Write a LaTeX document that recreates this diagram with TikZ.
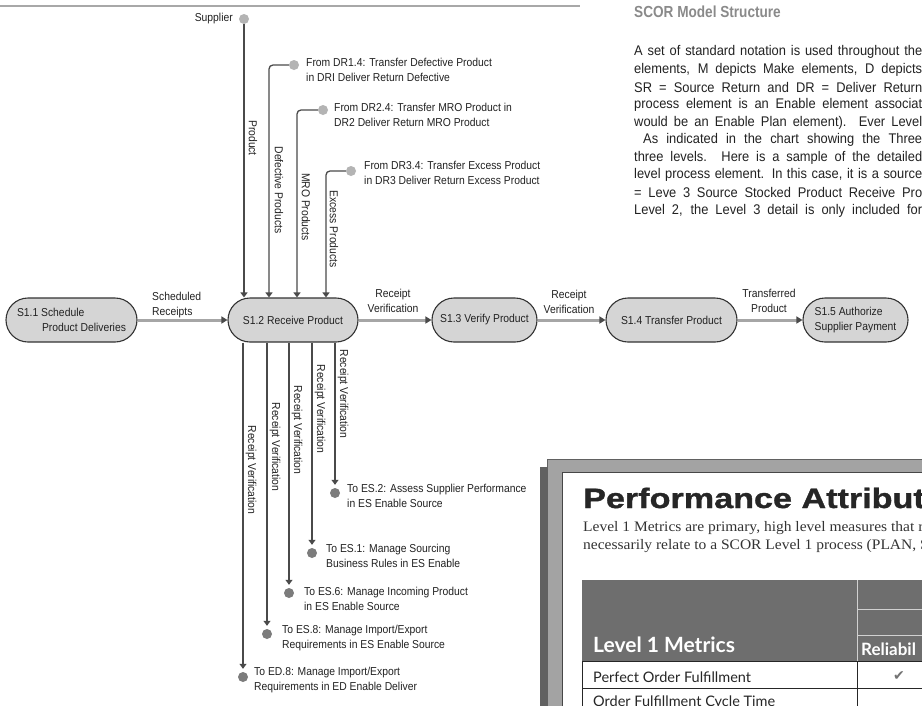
\documentclass[tikz,border=0pt]{standalone}
\usepackage{fontspec}
\setmainfont{Liberation Sans}[FakeStretch=0.9]
\newfontfamily\headfont{Liberation Sans}[FakeStretch=0.85]
\newfontfamily\bodyfont{Liberation Sans}[FakeStretch=0.92]
\newfontfamily\blackfont{Liberation Sans}[FakeStretch=1.22, BoldFeatures={FakeBold=1.2}]
\newfontfamily\bookfont{Liberation Serif}[FakeStretch=1.07]
\newfontfamily\tabfont{Lato}
\newfontfamily\symfont{DejaVu Sans}
\usetikzlibrary{arrows.meta}

\definecolor{procfill}{HTML}{D5D5D5}
\definecolor{procline}{HTML}{333333}
\definecolor{flowgrey}{HTML}{A6A6A6}
\definecolor{wiregrey}{HTML}{4A4A4A}
\definecolor{dotlight}{HTML}{B4B4B4}
\definecolor{dotdark}{HTML}{7C7C7C}
\definecolor{headgrey}{HTML}{8A8A8A}
\definecolor{rulegrey}{HTML}{A8A8A8}
\definecolor{textdark}{HTML}{222222}

\begin{document}
\begin{tikzpicture}[x=1pt, y=-1pt,
  proc/.style={draw=procline, line width=1.1pt, fill=procfill,
    rounded corners=22pt, minimum height=44pt, inner sep=0pt,
    font=\fontsize{11.5}{15}\selectfont, text=textdark, align=center},
  lbl/.style={inner sep=0pt, font=\fontsize{11.5}{15}\selectfont,
    text=textdark, align=center},
  flow/.style={draw=flowgrey, line width=3pt,
    -{Triangle[length=6pt, width=7pt, color=wiregrey]}},
  wire/.style={draw=wiregrey, line width=1.3pt,
    -{Triangle[length=5pt, width=7pt]}},
  dotA/.style={circle, fill=dotlight, minimum size=10pt, inner sep=0pt},
  dotB/.style={circle, fill=dotdark, minimum size=10pt, inner sep=0pt},
  para/.style={anchor=west, inner sep=0pt,
    font=\bodyfont\fontsize{14}{16}\selectfont, text=textdark}
]
\useasboundingbox (0,0) rectangle (922,705);
\clip (0,0) rectangle (922,705);
\fill[white] (0,0) rectangle (922,705);

% page rule and heading
\draw[rulegrey, line width=2.6pt] (0,6) -- (580,6);
\node[anchor=west, inner sep=0pt, text=headgrey,
  font=\headfont\bfseries\fontsize{16}{20}\selectfont] (head) at (634,12) {SCOR Model Structure};

% body text column
\node[para] (p1) at (634,52.0)  {\makebox[288pt][s]{A set of standard notation is used throughout the}};
\node[para] (p2) at (634,69.6)  {\makebox[288pt][s]{elements, M depicts Make elements, D depicts}};
\node[para] (p3) at (634,87.2)  {\makebox[288pt][s]{SR = Source Return and DR = Deliver Return}};
\node[para] (p4) at (634,104.8) {\makebox[288pt][s]{process element is an Enable element associat}};
\node[para] (p5) at (634,122.4) {\makebox[288pt][s]{would be an Enable Plan element). Ever Level}};
\node[para] (p6) at (643,140.0) {\makebox[279pt][s]{As indicated in the chart showing the Three}};
\node[para] (p7) at (634,157.6) {\makebox[288pt][s]{three levels. Here is a sample of the detailed}};
\node[para] (p8) at (634,175.2) {\makebox[288pt][s]{level process element. In this case, it is a source}};
\node[para] (p9) at (634,192.8) {\makebox[288pt][s]{= Leve 3 Source Stocked Product Receive Pro}};
\node[para] (p10) at (634,210.4) {\makebox[288pt][s]{Level 2, the Level 3 detail is only included for}};

% process elements
\node[proc, minimum width=131pt, align=left] (s11) at (71.5,320)
  {S1.1 Schedule\\\hspace*{25pt}Product Deliveries};
\node[proc, minimum width=130pt] (s12) at (293,320) {S1.2 Receive Product};
\node[proc, minimum width=105pt] (s13) at (484.5,320) {S1.3 Verify Product};
\node[proc, minimum width=131pt] (s14) at (671.5,320) {S1.4 Transfer Product};
\node[proc, minimum width=105pt, align=left] (s15) at (855.5,320)
  {S1.5 Authorize\\Supplier Payment};

% main flow
\draw[flow] (s11) -- (s12);
\draw[flow] (s12) -- (s13);
\draw[flow] (s13) -- (s14);
\draw[flow] (s14) -- (s15);
\node[lbl, anchor=west, align=left] (lsched) at (152,305.5) {Scheduled\\Receipts};
\node[lbl] (lrv1) at (393,300.5) {Receipt\\Verification};
\node[lbl] (lrv2) at (569,302) {Receipt\\Verification};
\node[lbl] (ltp) at (769,301) {Transferred\\Product};

% inputs into S1.2
\node[dotA] (sup) at (244,19) {};
\node[lbl, anchor=east] (lsup) at (233,19) {Supplier};
\node[dotA] (dr1) at (294,65) {};
\node[dotA] (dr2) at (323,110) {};
\node[dotA] (dr3) at (351,171) {};
\coordinate (k1) at (269,65);
\coordinate (k2) at (297,110);
\coordinate (k3) at (326,171);
\draw[wire] (sup) -- (sup |- s12.north);
\draw[wire, rounded corners=4pt] (dr1) -| (k1 |- s12.north);
\draw[wire, rounded corners=4pt] (dr2) -| (k2 |- s12.north);
\draw[wire, rounded corners=4pt] (dr3) -| (k3 |- s12.north);

\node[lbl, anchor=west, align=left] (ldr1) at (306,69.5)
  {From DR1.4: Transfer Defective Product\\in DRI Deliver Return Defective};
\node[lbl, anchor=west, align=left] (ldr2) at (334,115)
  {From DR2.4: Transfer MRO Product in\\DR2 Deliver Return MRO Product};
\node[lbl, anchor=west, align=left] (ldr3) at (364,172.5)
  {From DR3.4: Transfer Excess Product\\in DR3 Deliver Return Excess Product};

\node[lbl, rotate=-90] (lprod) at (253,138) {Product};
\node[lbl, rotate=-90] (ldef) at (279,190) {Defective Products};
\node[lbl, rotate=-90] (lmro) at (306,207) {MRO Products};
\node[lbl, rotate=-90] (lexc) at (334,229) {Excess Products};

% outputs from S1.2
\node[dotB] (es2) at (335,493) {};
\node[dotB] (es1) at (312,553) {};
\node[dotB] (es6) at (289,593) {};
\node[dotB] (es8) at (267,634) {};
\node[dotB] (ed8) at (243,677) {};
\draw[wire, shorten >=3pt] (s12.south -| es2) -- (es2);
\draw[wire, shorten >=3pt] (s12.south -| es1) -- (es1);
\draw[wire, shorten >=3pt] (s12.south -| es6) -- (es6);
\draw[wire, shorten >=3pt] (s12.south -| es8) -- (es8);
\draw[wire, shorten >=3pt] (s12.south -| ed8) -- (ed8);

\node[lbl, rotate=-90] (lv1) at (343,394) {Receipt Verification};
\node[lbl, rotate=-90] (lv2) at (320,409) {Receipt Verification};
\node[lbl, rotate=-90] (lv3) at (297,430) {Receipt Verification};
\node[lbl, rotate=-90] (lv4) at (275,447) {Receipt Verification};
\node[lbl, rotate=-90] (lv5) at (251,470) {Receipt Verification};

\node[lbl, anchor=west, align=left] (les2) at (347,496)
  {To ES.2: Assess Supplier Performance\\in ES Enable Source};
\node[lbl, anchor=west, align=left] (les1) at (326,556)
  {To ES.1: Manage Sourcing\\Business Rules in ES Enable};
\node[lbl, anchor=west, align=left] (les6) at (304,599)
  {To ES.6: Manage Incoming Product\\in ES Enable Source};
\node[lbl, anchor=west, align=left] (les8) at (282,638)
  {To ES.8: Manage Import/Export\\Requirements in ES Enable Source};
\node[lbl, anchor=west, align=left] (led8) at (254,680.5)
  {To ED.8: Manage Import/Export\\Requirements in ED Enable Deliver};

% performance attributes panel
\fill[black!62] (540,467) rectangle (548,710);
\filldraw[fill=black!36, draw=black!62, line width=0.8pt] (547,459) rectangle (930,712);
\filldraw[fill=white, draw=black!72, line width=0.8pt] (562,472) rectangle (930,712);
\node[anchor=base west, inner sep=0pt, text=black!85,
  font=\blackfont\bfseries\fontsize{28}{30}\selectfont] (ptitle) at (583,508) {Performance Attribut};
\node[anchor=base west, inner sep=0pt, text=black!80,
  font=\bookfont\fontsize{14.5}{18}\selectfont] (pl1) at (583,531)
  {Level 1 Metrics are primary, high level measures that r};
\node[anchor=base west, inner sep=0pt, text=black!80,
  font=\bookfont\fontsize{14.5}{18}\selectfont] (pl2) at (583,549)
  {necessarily relate to a SCOR Level 1 process (PLAN, S};

\fill[black!57] (582,580) rectangle (930,661);
\draw[black!18, line width=1pt] (857,580) -- (857,661);
\draw[black!18, line width=1pt] (857,609) -- (930,609);
\draw[black!18, line width=1pt] (857,635) -- (930,635);
\draw[black!85, line width=0.9pt] (582,661) -- (582,712);
\draw[black!85, line width=0.9pt] (857,661) -- (857,712);
\draw[black!85, line width=0.9pt] (582,661) -- (930,661);
\draw[black!85, line width=0.9pt] (582,688) -- (930,688);
\node[anchor=base west, inner sep=0pt, text=white,
  font=\tabfont\bfseries\fontsize{21}{24}\selectfont] (thead) at (593,652) {Level 1 Metrics};
\node[anchor=base west, inner sep=0pt, text=white,
  font=\tabfont\bfseries\fontsize{17}{20}\selectfont] (trel) at (861,655) {Reliabil};
\node[anchor=base west, inner sep=0pt, text=black!85,
  font=\tabfont\fontsize{14.5}{18}\selectfont] (trow1) at (593,682) {Perfect Order Fulfillment};
\node[anchor=base west, inner sep=0pt, text=black!85,
  font=\tabfont\fontsize{14.5}{18}\selectfont] (trow2) at (593,706) {Order Fulfillment Cycle Time};
\node[inner sep=0pt, text=black!55,
  font=\symfont\fontsize{14}{16}\selectfont] (tchk) at (899,676) {✔};
\end{tikzpicture}
\end{document}
